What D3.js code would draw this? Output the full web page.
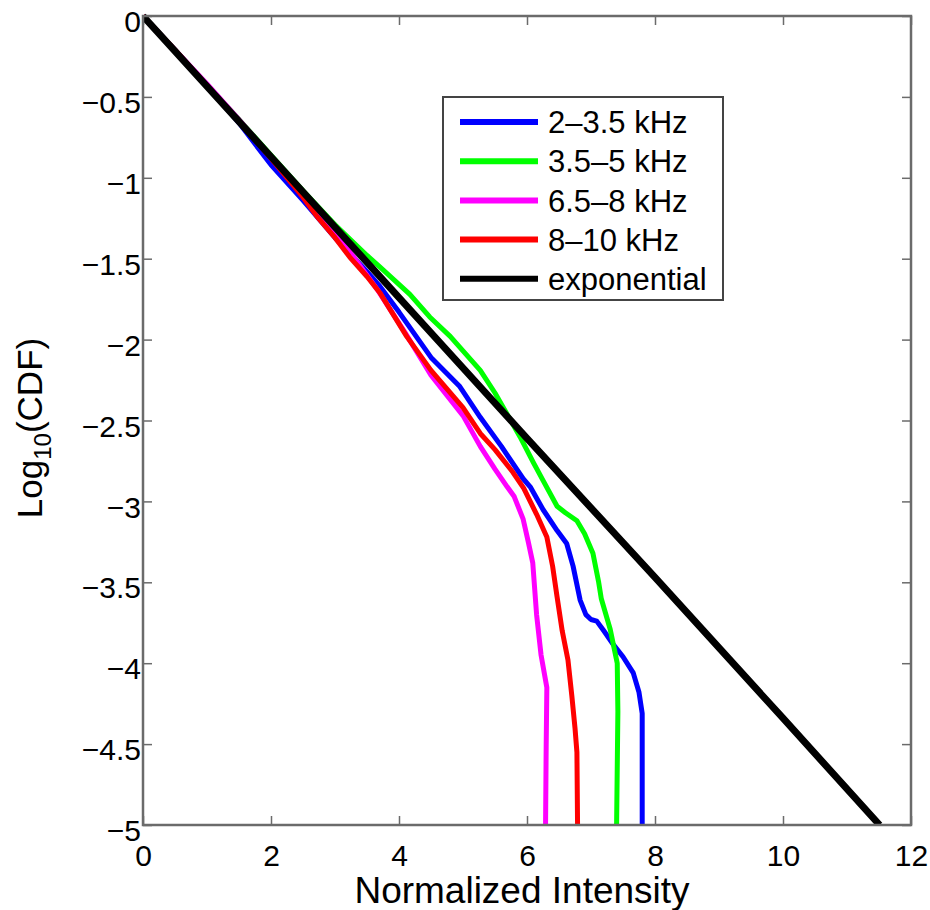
<!DOCTYPE html>
<html>
<head>
<meta charset="utf-8">
<script src="https://cdn.jsdelivr.net/npm/d3@7"></script>
<style>
  html, body { margin: 0; padding: 0; background: #fff; }
  svg { display: block; }
  text { font-family: "Liberation Sans", Arial, Helvetica, sans-serif; fill: #000; }
</style>
</head>
<body>
<svg id="chart" width="930" height="910"></svg>
<script>
// ---------------- data ----------------
const seriesNames = ["2\u20133.5 kHz", "3.5\u20135 kHz", "6.5\u20138 kHz", "8\u201310 kHz", "exponential"];
const seriesColors = ["#0000ff", "#00ff00", "#ff00ff", "#ff0000", "#000000"];

const blue = [[0,0],[0.5,-0.21],[1,-0.43],[1.5,-0.66],[2,-0.92],[2.5,-1.14],[3,-1.37],[3.5,-1.58],[3.7,-1.67],[4,-1.83],[4.5,-2.11],[4.95,-2.29],[5.27,-2.48],[5.6,-2.66],[5.94,-2.86],[6.05,-2.91],[6.25,-3.05],[6.47,-3.18],[6.62,-3.26],[6.72,-3.40],[6.83,-3.61],[6.92,-3.70],[7.0,-3.73],[7.09,-3.74],[7.2,-3.80],[7.34,-3.88],[7.5,-3.96],[7.66,-4.06],[7.75,-4.18],[7.80,-4.31],[7.80,-5.0]];
const green = [[0,0],[0.5,-0.21],[1,-0.43],[1.5,-0.64],[2,-0.86],[2.5,-1.08],[3,-1.29],[3.5,-1.48],[3.7,-1.55],[4.17,-1.72],[4.48,-1.86],[4.8,-1.98],[5.0,-2.07],[5.27,-2.19],[5.5,-2.33],[5.89,-2.60],[6.1,-2.76],[6.25,-2.87],[6.47,-3.03],[6.6,-3.07],[6.78,-3.12],[6.9,-3.20],[7.03,-3.32],[7.12,-3.50],[7.16,-3.60],[7.30,-3.79],[7.41,-4.00],[7.42,-4.3],[7.40,-5.0]];
const magenta = [[0,0],[0.5,-0.21],[1,-0.42],[1.5,-0.64],[2,-0.87],[2.5,-1.09],[3,-1.33],[3.66,-1.69],[4.1,-1.96],[4.5,-2.22],[5.0,-2.47],[5.27,-2.66],[5.5,-2.80],[5.69,-2.91],[5.8,-2.97],[5.94,-3.11],[6.02,-3.25],[6.09,-3.38],[6.15,-3.7],[6.22,-3.95],[6.31,-4.15],[6.30,-4.5],[6.29,-5.0]];
const red = [[0,0],[0.5,-0.21],[1,-0.43],[1.5,-0.65],[2,-0.88],[2.5,-1.12],[2.72,-1.24],[3.0,-1.37],[3.23,-1.49],[3.5,-1.61],[3.7,-1.71],[4.12,-1.98],[4.5,-2.19],[5.0,-2.42],[5.27,-2.58],[5.5,-2.68],[5.78,-2.82],[5.95,-2.92],[6.15,-3.08],[6.31,-3.22],[6.4,-3.40],[6.47,-3.59],[6.55,-3.80],[6.64,-3.98],[6.70,-4.2],[6.75,-4.4],[6.78,-4.55],[6.79,-5.0]];
const exponential = [[0,0],[2,-0.87],[4,-1.74],[6,-2.61],[8,-3.47],[10,-4.34],[11.51,-5.0]];

const xTicks = [0, 2, 4, 6, 8, 10, 12];
const yTicks = [0, -0.5, -1, -1.5, -2, -2.5, -3, -3.5, -4, -4.5, -5];
const xLabel = "Normalized Intensity";

// ---------------- layout ----------------
const svg = d3.select("#chart");
const L = 143, R = 911, T = 16, B = 825;

const x = d3.scaleLinear().domain([0, 12]).range([L, R]);
const y = d3.scaleLinear().domain([-5, 0]).range([B, T]);
const fmt = d3.format("");

const axisColor = "#6b6b6b";
const tickLen = 9;

function styleAxis(g) {
  g.select(".domain").remove();
  g.selectAll(".tick line").attr("stroke", axisColor).attr("stroke-width", 1.5);
  g.selectAll(".tick text").attr("font-size", 30).attr("fill", "#000")
    .style("font-family", '"Liberation Sans", Arial, sans-serif');
}

// bottom axis
svg.append("g").attr("transform", `translate(0,${B})`)
  .call(d3.axisBottom(x).tickValues(xTicks).tickFormat(fmt).tickSize(-tickLen).tickPadding(20))
  .call(styleAxis);
// top axis
svg.append("g").attr("transform", `translate(0,${T})`)
  .call(d3.axisTop(x).tickValues(xTicks).tickFormat("").tickSize(-tickLen))
  .call(styleAxis);
// left axis
svg.append("g").attr("transform", `translate(${L},0)`)
  .call(d3.axisLeft(y).tickValues(yTicks).tickFormat(fmt).tickSize(-tickLen).tickPadding(2))
  .call(styleAxis)
  .selectAll(".tick text").attr("dy", "0.52em");
// right axis
svg.append("g").attr("transform", `translate(${R},0)`)
  .call(d3.axisRight(y).tickValues(yTicks).tickFormat("").tickSize(-tickLen))
  .call(styleAxis);

// ---------------- lines ----------------
const line = d3.line().x(d => x(d[0])).y(d => y(d[1])).curve(d3.curveLinear);
const allSeries = [blue, green, magenta, red, exponential];
const widths = [5, 5, 5, 5, 7];

svg.append("defs").append("clipPath").attr("id", "clip")
  .append("rect").attr("x", L).attr("y", T - 4).attr("width", R - L).attr("height", B - T + 4);

svg.append("g").attr("clip-path", "url(#clip)")
  .selectAll("path").data(allSeries).join("path")
  .attr("d", line)
  .attr("fill", "none")
  .attr("stroke", (d, i) => seriesColors[i])
  .attr("stroke-width", (d, i) => widths[i])
  .attr("stroke-linejoin", "round")
  .attr("stroke-linecap", "butt");

// frame
svg.append("rect").attr("x", L).attr("y", T).attr("width", R - L).attr("height", B - T)
  .attr("fill", "none").attr("stroke", axisColor).attr("stroke-width", 2.5);

// ---------------- labels ----------------
svg.append("text").attr("x", (L + R) / 2 - 5).attr("y", 903)
  .attr("text-anchor", "middle").attr("font-size", 37).text(xLabel);

const yl = svg.append("text")
  .attr("transform", `translate(42,${428}) rotate(-90)`)
  .attr("text-anchor", "middle").attr("font-size", 35);
yl.append("tspan").text("Log");
yl.append("tspan").attr("font-size", 24).attr("dy", 9).text("10");
yl.append("tspan").attr("dy", -9).text("(CDF)");

// ---------------- legend ----------------
const lg = svg.append("g");
lg.append("rect").attr("x", 443).attr("y", 97).attr("width", 280).attr("height", 203)
  .attr("fill", "#fff").attr("stroke", "#444").attr("stroke-width", 2);
const rowY = i => 122 + i * 39.2;
seriesNames.forEach((name, i) => {
  lg.append("line").attr("x1", 460).attr("x2", 538).attr("y1", rowY(i)).attr("y2", rowY(i))
    .attr("stroke", seriesColors[i]).attr("stroke-width", 6);
  lg.append("text").attr("x", 548).attr("y", rowY(i)).attr("dy", "0.36em")
    .attr("font-size", 31).text(name);
});
</script>
</body>
</html>
